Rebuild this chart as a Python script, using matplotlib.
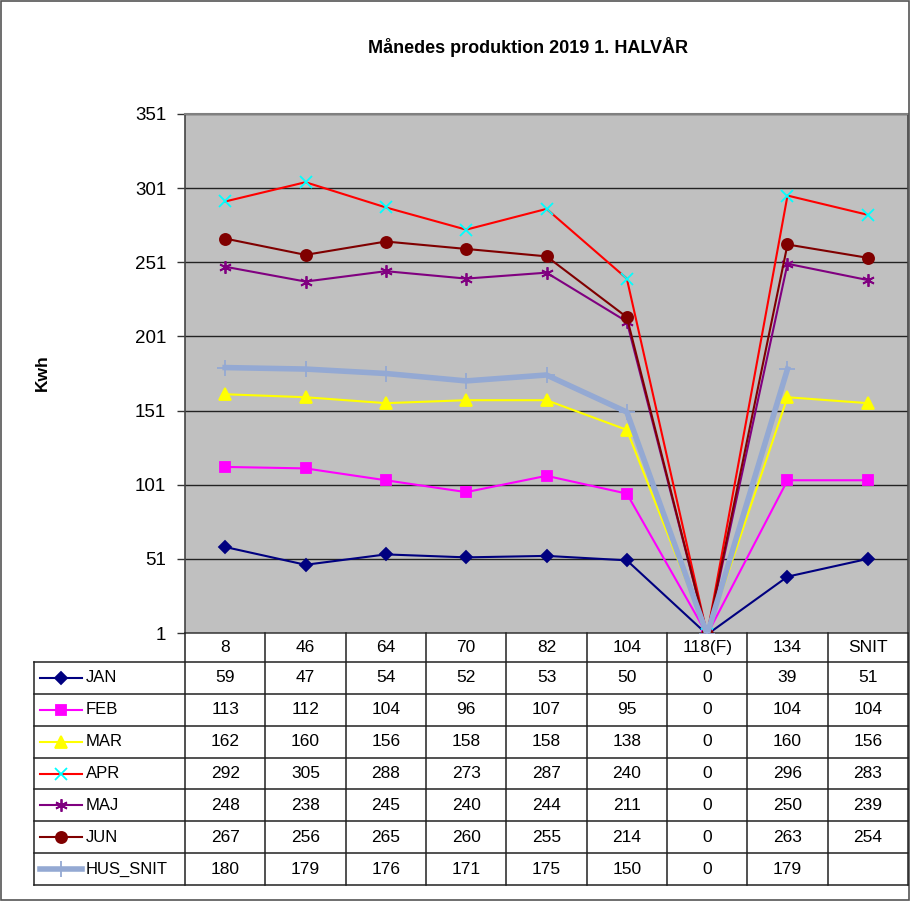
import matplotlib
matplotlib.use("Agg")
import matplotlib.pyplot as plt
import numpy as np
from matplotlib.lines import Line2D
from matplotlib.patches import Rectangle

plt.rcParams["font.family"] = ["Liberation Sans", "DejaVu Sans"]

categories = ["8", "46", "64", "70", "82", "104", "118(F)", "134", "SNIT"]
series_names = ["JAN", "FEB", "MAR", "APR", "MAJ", "JUN", "HUS_SNIT"]
jan = [59, 47, 54, 52, 53, 50, 0, 39, 51]
feb = [113, 112, 104, 96, 107, 95, 0, 104, 104]
mar = [162, 160, 156, 158, 158, 138, 0, 160, 156]
apr = [292, 305, 288, 273, 287, 240, 0, 296, 283]
maj = [248, 238, 245, 240, 244, 211, 0, 250, 239]
jun = [267, 256, 265, 260, 255, 214, 0, 263, 254]
hus_snit = [180, 179, 176, 171, 175, 150, 0, 179, None]
yticks = [1, 51, 101, 151, 201, 251, 301, 351]

values = [jan, feb, mar, apr, maj, jun, hus_snit]
# line colour, marker, marker face, marker edge, marker size, line width
styles = [
    ("#000080", "D", "#000080", "#000080", 6.5, 1.5),
    ("#FF00FF", "s", "#FF00FF", "#FF00FF", 7.5, 1.5),
    ("#FFFF00", "^", "#FFFF00", "#FFFF00", 8, 1.5),
    ("#FF0000", "x", "#00FFFF", "#00FFFF", 8, 1.5),
    ("#800080", (6, 2, 0), "#800080", "#800080", 9, 1.5),
    ("#800000", "o", "#800000", "#800000", 8, 1.5),
    ("#94A9D3", "+", "#94A9D3", "#94A9D3", 12, 4),
]

W, H = 910, 902
fig = plt.figure(figsize=(9.1, 9.02), dpi=100)


def fx(px):
    return px / W


def fy(py):
    return 1 - py / H


L, R, T, B = 185, 908, 114, 633
ax = fig.add_axes([fx(L), fy(B), fx(R) - fx(L), fy(T) - fy(B)])
ax.set_facecolor("#C0C0C0")
x = np.arange(len(categories))
for vals, (lc, mk, mfc, mec, ms, lw) in zip(values, styles):
    y = np.array([np.nan if v is None else v for v in vals], dtype=float)
    ax.plot(x, y, color=lc, lw=lw, marker=mk, markerfacecolor=mfc,
            markeredgecolor=mec, markersize=ms, markeredgewidth=1.3, zorder=3)

ax.set_xlim(-0.5, len(categories) - 0.5)
ax.set_ylim(yticks[0], yticks[-1])
ax.set_yticks(yticks)
ax.set_yticklabels([str(t) for t in yticks], fontsize=13.5)
ax.set_xticks([])
ax.tick_params(axis="y", direction="out", length=6, width=1, color="#333333", pad=7.5)
ax.grid(axis="y", color="#222222", lw=1)
ax.set_axisbelow(True)
for s in ["left", "right", "bottom"]:
    ax.spines[s].set_color("#444444")
    ax.spines[s].set_linewidth(1.2)
ax.spines["top"].set_color("#808080")
ax.spines["top"].set_linewidth(1.5)

fig.text(fx(528), fy(47), "Månedes produktion 2019 1. HALVÅR", ha="center",
         va="center", fontsize=13, fontweight="bold")
fig.text(fx(42), fy(373), "Kwh", rotation=90, ha="center", va="center",
         fontsize=12.5, fontweight="bold")

# data table
col_edges = np.linspace(L, R, len(categories) + 1)
row_edges = np.linspace(662, 885, len(series_names) + 1)
cat_top = B
leg_left = 34
lc_tab = "#222222"


def hline(x0, x1, py):
    fig.add_artist(Line2D([fx(x0), fx(x1)], [fy(py), fy(py)], color=lc_tab, lw=1.1))


def vline(px, y0, y1):
    fig.add_artist(Line2D([fx(px), fx(px)], [fy(y0), fy(y1)], color=lc_tab, lw=1.1))


for r in row_edges:
    hline(leg_left, R, r)
for c in col_edges:
    vline(c, cat_top, row_edges[-1])
vline(leg_left, row_edges[0], row_edges[-1])

for j, cat in enumerate(categories):
    fig.text(fx((col_edges[j] + col_edges[j + 1]) / 2), fy((cat_top + row_edges[0]) / 2),
             cat, ha="center", va="center", fontsize=12.5)

for i, (name, vals, (lc, mk, mfc, mec, ms, lw)) in enumerate(zip(series_names, values, styles)):
    yc = (row_edges[i] + row_edges[i + 1]) / 2
    fig.add_artist(Line2D([fx(40), fx(82)], [fy(yc), fy(yc)], color=lc, lw=lw))
    fig.add_artist(Line2D([fx(61)], [fy(yc)], marker=mk, markerfacecolor=mfc,
                          markeredgecolor=mec, markersize=ms, markeredgewidth=1.3,
                          linestyle="none"))
    fig.text(fx(86), fy(yc), name, ha="left", va="center", fontsize=12)
    for j, v in enumerate(vals):
        if v is None:
            continue
        fig.text(fx((col_edges[j] + col_edges[j + 1]) / 2), fy(yc), str(v),
                 ha="center", va="center", fontsize=12.5)

# outer chart border
fig.add_artist(Rectangle((fx(1), fy(900)), fx(908), fy(1) - fy(900), fill=False,
                         edgecolor="#555555", lw=1.2, transform=fig.transFigure))

fig.savefig("out.png", dpi=100, facecolor="white")
